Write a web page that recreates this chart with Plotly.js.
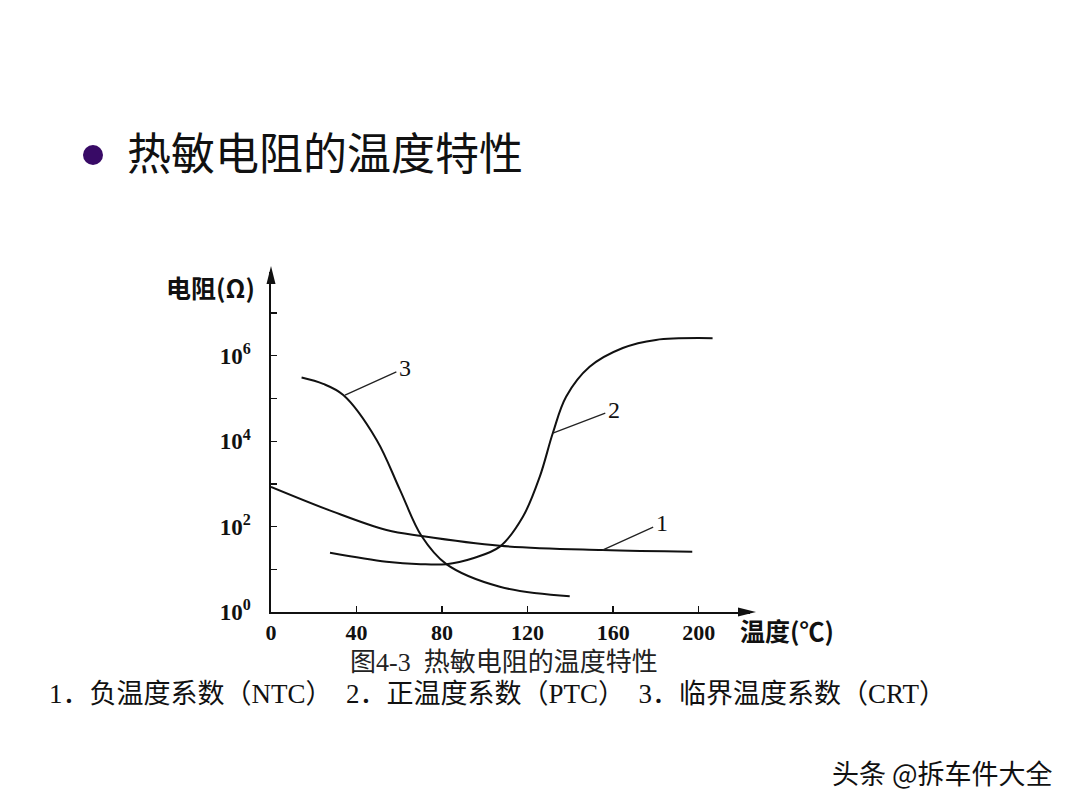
<!DOCTYPE html>
<html>
<head>
<meta charset="utf-8">
<script src="https://cdn.plot.ly/plotly-3.0.1.min.js"></script>
<style>html,body{margin:0;padding:0;background:#fff;}#chart{width:1080px;height:810px;}</style>
</head>
<body>
<div id="chart"></div>
<script>
// Temperature (°C) and resistance (Ω)
const ntcTemp = [0, 29, 54, 70.4, 107, 155, 197];
const ntcOhm  = [851, 224, 83, 60, 35.5, 28.2, 25.7];

const ptcTemp = [27.6, 54, 70, 82, 94.5, 107, 117.8, 125.7, 131.8, 138, 149, 164.5, 180, 206.5];
const ptcOhm  = [24.5, 15.1, 13.2, 13.2, 18.2, 33.9, 170, 1479, 15500, 109600, 549500, 1513561, 2344229, 2570396];

const crtTemp = [14.3, 24.4, 33.8, 49.4, 60.3, 70.4, 82, 107, 139.7];
const crtOhm  = [309000, 219000, 120000, 10700, 724, 60, 13.2, 3.9, 2.34];

const xTicks = [0, 40, 80, 120, 160, 200];
const yTickVals = [1, 100, 10000, 1000000];
const yTickText = ['10<sup>0</sup>', '10<sup>2</sup>', '10<sup>4</sup>', '10<sup>6</sup>'];
const yMinorVals = [10, 1000, 100000, 10000000];

const curveLabels = ['1', '2', '3'];
const titleText = '热敏电阻的温度特性';
const captionText = '图4-3  热敏电阻的温度特性';
const legendText = '1．负温度系数（NTC）  2．正温度系数（PTC）  3．临界温度系数（CRT）';
const yLabel = '电阻(Ω)';
const xLabel = '温度(℃)';
const watermark = '头条 @拆车件大全';

const serif = 'Liberation Serif, Noto Sans CJK SC, serif';
const lineStyle = {color: '#111', width: 2, shape: 'spline', smoothing: 1};

const traces = [
  {x: ntcTemp, y: ntcOhm, mode: 'lines', line: lineStyle, hoverinfo: 'skip'},
  {x: ptcTemp, y: ptcOhm, mode: 'lines', line: lineStyle, hoverinfo: 'skip'},
  {x: crtTemp, y: crtOhm, mode: 'lines', line: lineStyle, hoverinfo: 'skip'}
];

// numbered label with a leader line pointing to a point on its curve
function callout(tipX, tipY, textX, textY, label) {
  return {
    x: tipX, y: Math.log10(tipY), xref: 'x', yref: 'y',
    ax: textX, ay: Math.log10(textY), axref: 'x', ayref: 'y',
    showarrow: true, arrowhead: 0, arrowwidth: 1.3, arrowcolor: '#222',
    text: label, borderpad: 2,
    font: {family: serif, size: 24, color: '#111'}
  };
}

const W = 1080, H = 810, L = 271, R = 330, T = 272, B = 198;
const pw = W - L - R, ph = H - T - B;
const px = v => (v - L) / pw;
const py = v => (H - B - v) / ph;

function pageText(x, y, text, font) {
  return {x: px(x), y: py(y), xref: 'paper', yref: 'paper', text: text, showarrow: false,
    xanchor: 'center', yanchor: 'middle', font: font};
}

const annotations = [
  callout(155, 28.2, 182.7, 120, curveLabels[0]),
  callout(131.8, 15500, 160.3, 53700, curveLabels[1]),
  callout(34.6, 120000, 62.6, 515000, curveLabels[2]),
  pageText(210, 287, '<b>' + yLabel + '</b>', {family: 'Noto Sans CJK SC', size: 25, color: '#111'}),
  pageText(787, 630, '<b>' + xLabel + '</b>', {family: 'Noto Sans CJK SC', size: 25, color: '#111'}),
  pageText(504, 662, captionText, {family: serif, size: 26, color: '#222'}),
  pageText(497, 694, legendText, {family: serif, size: 27, color: '#111'}),
  pageText(325, 151, titleText, {family: 'Noto Sans CJK SC', size: 44, color: '#111'}),
  pageText(942, 772, watermark, {family: 'Noto Sans CJK SC', size: 27, color: '#111'})
];

const layout = {
  width: W, height: H,
  margin: {l: L, r: R, t: T, b: B},
  paper_bgcolor: '#fff', plot_bgcolor: '#fff',
  showlegend: false,
  xaxis: {
    range: [0, 224], showgrid: false, zeroline: false,
    showline: true, linecolor: '#111', linewidth: 1.6,
    tickvals: xTicks, ticks: 'inside', ticklen: 6, tickwidth: 1.3, tickcolor: '#111',
    tickfont: {family: serif, size: 22, color: '#111', weight: 'bold'}
  },
  yaxis: {
    type: 'log', range: [0, 7.96], showgrid: false, zeroline: false,
    showline: true, linecolor: '#111', linewidth: 1.6,
    tickvals: yTickVals, ticktext: yTickText, ticks: 'inside', ticklen: 6, tickwidth: 1.3, tickcolor: '#111',
    minor: {tickvals: yMinorVals, ticks: 'inside', ticklen: 6, tickwidth: 1.3, tickcolor: '#111', showgrid: false},
    tickfont: {family: serif, size: 23, color: '#111', weight: 'bold'}, ticklabelstandoff: 14
  },
  shapes: [
    {type: 'circle', xref: 'paper', yref: 'paper',
     x0: px(83), x1: px(103), y0: py(165), y1: py(145),
     fillcolor: '#380a66', line: {width: 0}},
    // arrowheads on the axes
    {type: 'path', xref: 'paper', yref: 'paper',
     path: 'M ' + px(271) + ' ' + py(266) + ' L ' + px(266.5) + ' ' + py(284) + ' L ' + px(275.5) + ' ' + py(284) + ' Z',
     fillcolor: '#111', line: {width: 0}},
    {type: 'path', xref: 'paper', yref: 'paper',
     path: 'M ' + px(756) + ' ' + py(612) + ' L ' + px(738) + ' ' + py(607.5) + ' L ' + px(738) + ' ' + py(616.5) + ' Z',
     fillcolor: '#111', line: {width: 0}}
  ],
  annotations: annotations
};

Plotly.newPlot('chart', traces, layout, {displayModeBar: false, staticPlot: true});
</script>
</body>
</html>
